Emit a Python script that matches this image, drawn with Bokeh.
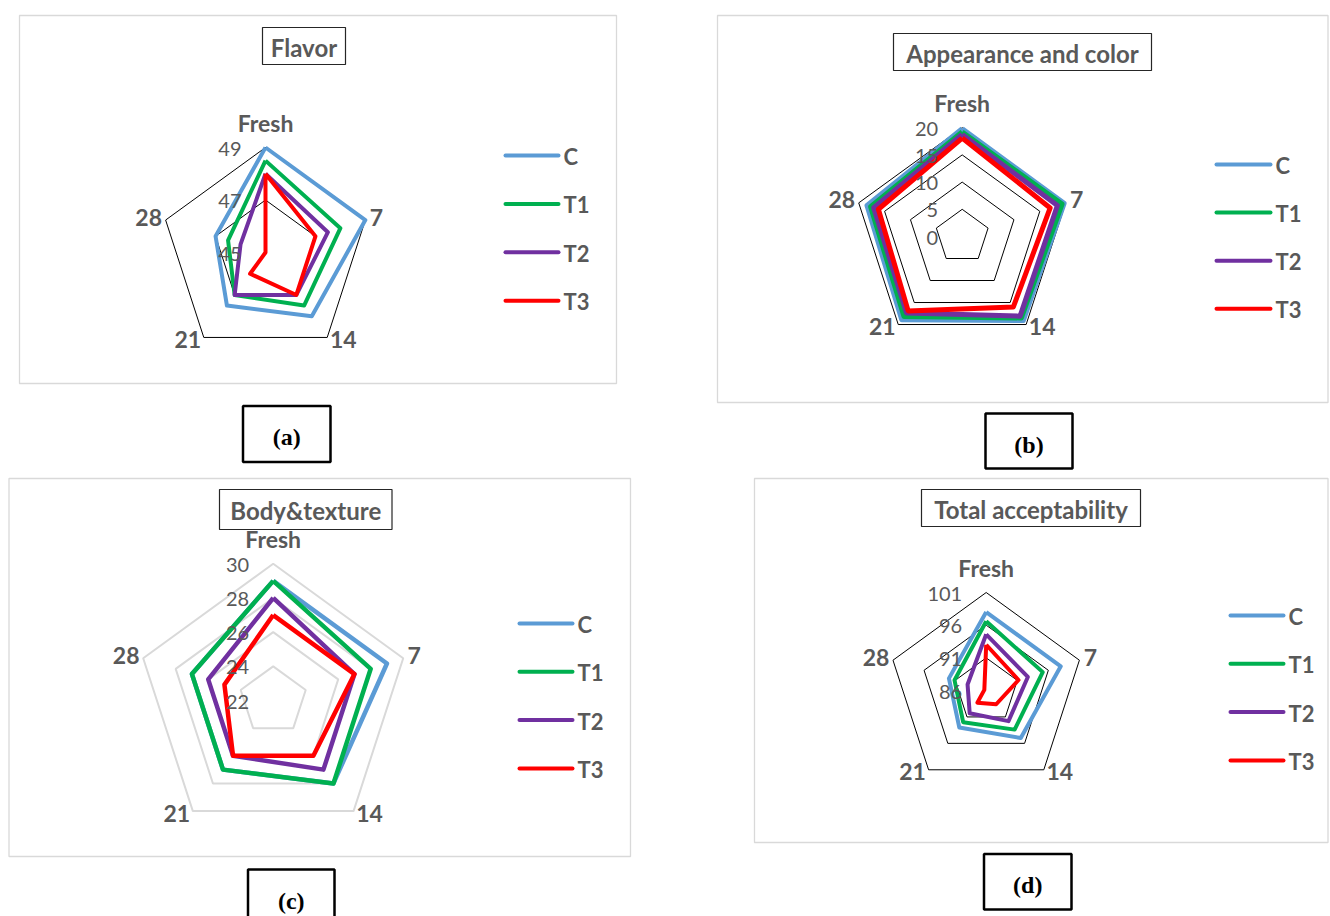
import math
from bokeh.plotting import figure
from bokeh.models import Range1d
from bokeh.embed import file_html
from bokeh.resources import INLINE
from bokeh.core.properties import value

# ---------------- data ----------------
categories = ["Fresh", "7", "14", "21", "28"]
series_names = ["C", "T1", "T2", "T3"]
series_colors = ["#5B9BD5", "#00B050", "#7030A0", "#FF0000"]

flavor_ticks = [45, 47, 49]
flavor_C = [49, 49, 48, 47.5, 47]
flavor_T1 = [48.5, 48, 47.5, 47, 46.5]
flavor_T2 = [48, 47.5, 47, 47, 46]
flavor_T3 = [48, 47, 47, 46, 45]

appearance_ticks = [0, 5, 10, 15, 20]
appearance_C = [19.8, 19.7, 19.1, 18.9, 18.4]
appearance_T1 = [19.2, 19.3, 18.5, 18.2, 17.7]
appearance_T2 = [18.75, 18.4, 18.1, 17.4, 17.1]
appearance_T3 = [18.1, 17.0, 16.0, 16.9, 16.2]

body_ticks = [22, 24, 26, 28, 30]
body_C = [29, 29, 28, 27, 27]
body_T1 = [29, 28, 28, 27, 27]
body_T2 = [28, 27, 27, 26, 26]
body_T3 = [27, 27, 26, 26, 25]

total_ticks = [86, 91, 96, 101]
total_C = [98, 98, 95, 93, 92]
total_T1 = [96.6, 95.1, 93.4, 92, 91.1]
total_T2 = [94.6, 92.7, 91.8, 90.3, 89]
total_T3 = [93, 91.2, 88.6, 88.3, 86.3]

# ---------------- layout ----------------
W, H = 1330, 916
p = figure(width=W, height=H, x_range=Range1d(0, W), y_range=Range1d(H, 0),
           output_backend="svg", toolbar_location=None, min_border=0)
p.axis.visible = False
p.grid.visible = False
p.outline_line_color = None
p.background_fill_color = "white"

FONT = value("Lato")
GREY = "#595959"

panels = [
    dict(title="Flavor", data=[flavor_C, flavor_T1, flavor_T2, flavor_T3], ticks=flavor_ticks,
         cx=265, cy=252, R=105, frame=(19, 15, 616, 383), tbox=(262, 27, 345, 64),
         leg=(505, 558, 155, 48.4), cap="(a)", cbox=(242.5, 405.5, 330, 461.5),
         gcol="black", gw=1, lw=4),
    dict(title="Appearance and color", data=[appearance_C, appearance_T1, appearance_T2, appearance_T3],
         ticks=appearance_ticks, cx=961.7, cy=236, R=108.8, frame=(717, 15, 1327.5, 402),
         tbox=(893, 33, 1151, 70), leg=(1216, 1270, 164, 48.1), cap="(b)",
         cbox=(985, 413, 1072, 468), gcol="black", gw=1, lw=5),
    dict(title="Body&texture", data=[body_C, body_T1, body_T2, body_T3], ticks=body_ticks,
         cx=272.7, cy=700, R=136.7, frame=(8.5, 478, 630, 856), tbox=(219, 489, 391.5, 529),
         leg=(519, 572, 623, 48.3), cap="(c)", cbox=(247.5, 869, 334, 930),
         gcol="#D9D9D9", gw=2, lw=4.5),
    dict(title="Total acceptability", data=[total_C, total_T1, total_T2, total_T3], ticks=total_ticks,
         cx=985.7, cy=690, R=98, frame=(754, 478, 1327.5, 842), tbox=(921, 489, 1140, 526),
         leg=(1230, 1283, 615, 48.3), cap="(d)", cbox=(983.5, 853.5, 1071, 909),
         gcol="black", gw=1, lw=4),
]

n = len(categories)
angles = [math.radians(90 - 72 * i) for i in range(n)]
# label offsets (pixels) from each outer vertex
label_off = [(0, -25), (11, -3), (16, 2), (-16, 2), (-17, -3)]


def to_xy(cx, cy, r, a):
    return cx + r * math.cos(a), cy - r * math.sin(a)


for pn in panels:
    cx, cy, R = pn["cx"], pn["cy"], pn["R"]
    tmin, tmax = pn["ticks"][0], pn["ticks"][-1]

    def rad(v):
        return R * (v - tmin) / (tmax - tmin)

    # panel frame
    l, t, r_, b = pn["frame"]
    p.quad(left=[l], right=[r_], top=[t], bottom=[b], fill_color="white",
           line_color="#D9D9D9", line_width=1.3)

    # grid rings
    for tv in pn["ticks"][1:]:
        rr = rad(tv)
        pts = [to_xy(cx, cy, rr, a) for a in angles]
        p.patch([q[0] for q in pts], [q[1] for q in pts], fill_color=None,
                line_color=pn["gcol"], line_width=pn["gw"])

    # series
    for vals, col in zip(pn["data"], series_colors):
        pts = [to_xy(cx, cy, rad(v), a) for v, a in zip(vals, angles)]
        xs = [q[0] for q in pts] + [pts[0][0]]
        ys = [q[1] for q in pts] + [pts[0][1]]
        p.line(xs, ys, line_color=col, line_width=pn["lw"], line_join="round")

    # tick labels
    p.text(x=[cx - 24] * len(pn["ticks"]), y=[cy - rad(tv) + 1 for tv in pn["ticks"]],
           text=[str(tv) for tv in pn["ticks"]], text_font=FONT, text_font_size="20px",
           text_color=GREY, text_align="right", text_baseline="middle")

    # category labels
    lx, ly = [], []
    for a, (ox, oy) in zip(angles, label_off):
        x_, y_ = to_xy(cx, cy, R, a)
        lx.append(x_ + ox)
        ly.append(y_ + oy)
    p.text(x=lx, y=ly, text=categories, text_font=FONT, text_font_style="bold",
           text_font_size="23px", text_color=GREY, text_align="center", text_baseline="middle")

    # title box
    l, t, r_, b = pn["tbox"]
    p.quad(left=[l], right=[r_], top=[t], bottom=[b], fill_color="white",
           line_color="#262626", line_width=1.2)
    p.text(x=[(l + r_) / 2], y=[(t + b) / 2 + 1], text=[pn["title"]], text_font=FONT,
           text_font_style="bold", text_font_size="24px", text_color=GREY,
           text_align="center", text_baseline="middle")

    # legend
    x0, x1, y0, dy = pn["leg"]
    for k, (nm, col) in enumerate(zip(series_names, series_colors)):
        yy = y0 + k * dy
        p.line([x0, x1], [yy, yy], line_color=col, line_width=4, line_cap="round")
    p.text(x=[x1 + 5] * 4, y=[y0 + k * dy + 1 for k in range(4)], text=series_names,
           text_font=FONT, text_font_style="bold", text_font_size="22px", text_color=GREY,
           text_align="left", text_baseline="middle")

    # caption box
    l, t, r_, b = pn["cbox"]
    p.quad(left=[l], right=[r_], top=[t], bottom=[b], fill_color="white",
           line_color="black", line_width=2.5)
    p.text(x=[(l + r_) / 2], y=[t + 31], text=[pn["cap"]], text_font=value("Liberation Serif"),
           text_font_style="bold", text_font_size="24px", text_color="black",
           text_align="center", text_baseline="middle")

open("out.html", "w").write(file_html(p, INLINE))
